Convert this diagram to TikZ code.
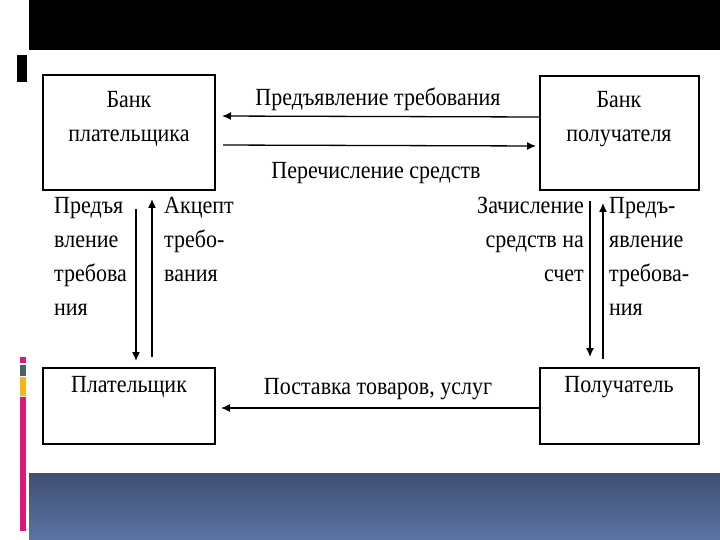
\documentclass[tikz,border=0pt]{standalone}
\usepackage{fontspec}
\setmainfont{Liberation Serif}
\usetikzlibrary{arrows.meta,calc}
\definecolor{bandtop}{RGB}{62,79,112}
\definecolor{bandbot}{RGB}{91,115,165}
\definecolor{accpink}{RGB}{222,24,122}
\definecolor{accgray}{RGB}{82,92,108}
\definecolor{accyel}{RGB}{246,182,22}
\newcommand\vs[1]{\scalebox{1}[1.12]{#1}}
\tikzset{
  box/.style={draw=black, line width=2pt, rectangle, inner sep=0pt},
  boxtext/.style={font=\fontsize{22}{34}\selectfont, align=center, inner sep=0pt},
  lbl/.style={font=\fontsize{22}{34}\selectfont, inner sep=0pt},
  arr/.style={line width=1.3pt, -{Latex[length=9pt,width=8pt]}}
}
\begin{document}
\begin{tikzpicture}[x=1pt,y=-1pt]
\useasboundingbox (0,0) rectangle (720,540);
% decorations
\fill[black] (29,0) rectangle (720,50);
\fill[black] (17,55) rectangle (27,82);
\shade[top color=bandtop, bottom color=bandbot] (29,473) rectangle (720,540);
\fill[accpink] (20,357) rectangle (26,363);
\fill[accgray] (20,365) rectangle (26,376);
\fill[accyel] (20,377) rectangle (26,396);
\fill[accpink] (20,397) rectangle (26,531);
% boxes
\node[box, minimum width=172pt, minimum height=115pt] (bp) at (129,132.5) {};
\node[box, minimum width=159pt, minimum height=114pt] (br) at (619.5,133) {};
\node[box, minimum width=172pt, minimum height=76pt] (p) at (129,406) {};
\node[box, minimum width=159pt, minimum height=76pt] (r) at (619.5,406) {};
% box texts
\node[boxtext] (tbp) at (129,119) {\vs{Банк}\\\vs{плательщика}};
\node[boxtext] (tbr) at (619,119) {\vs{Банк}\\\vs{получателя}};
\node[boxtext] (tp) at (129,387) {\vs{Плательщик}};
\node[boxtext] (tr) at (619,387) {\vs{Получатель}};
% horizontal arrows
\draw[arr, shorten >=6pt] ($(br.north west)+(0,42)$) -- ($(bp.north east)+(0,42)$);
\draw[arr, shorten <=7pt, shorten >=3pt] ($(bp.north east)+(0,71)$) -- ($(br.north west)+(0,71)$);
\draw[arr, shorten >=5pt] ($(r.north west)+(0,41)$) -- ($(p.north east)+(0,41)$);
\node[lbl] (l1) at (378,99) {\vs{Предъявление требования}};
\node[lbl] (l2) at (376,173) {\vs{Перечисление средств}};
\node[lbl] (l3) at (378,389) {\vs{Поставка товаров, услуг}};
% vertical arrows
\draw[arr] ($(bp.south west)+(94,18)$) -- ($(p.north west)+(94,-6)$);
\draw[arr] ($(p.north west)+(110,-10)$) -- ($(bp.south west)+(110,8)$);
\draw[arr] ($(br.south west)+(51,10)$) -- ($(r.north west)+(51,-10)$);
\draw[arr] ($(r.north west)+(64,-8)$) -- ($(br.south west)+(64,12)$);
% vertical labels
\node[lbl, anchor=north west, align=left] (l4) at (54,197) {\vs{Предъя}\\\vs{вление}\\\vs{требова}\\\vs{ния}};
\node[lbl, anchor=north west, align=left] (l5) at (164,197) {\vs{Акцепт}\\\vs{требо-}\\\vs{вания}};
\node[lbl, anchor=north east, align=right] (l6) at (584,197) {\vs{Зачисление}\\\vs{средств на}\\\vs{счет}};
\node[lbl, anchor=north west, align=left] (l7) at (609,197) {\vs{Предъ-}\\\vs{явление}\\\vs{требова-}\\\vs{ния}};
\end{tikzpicture}
\end{document}
